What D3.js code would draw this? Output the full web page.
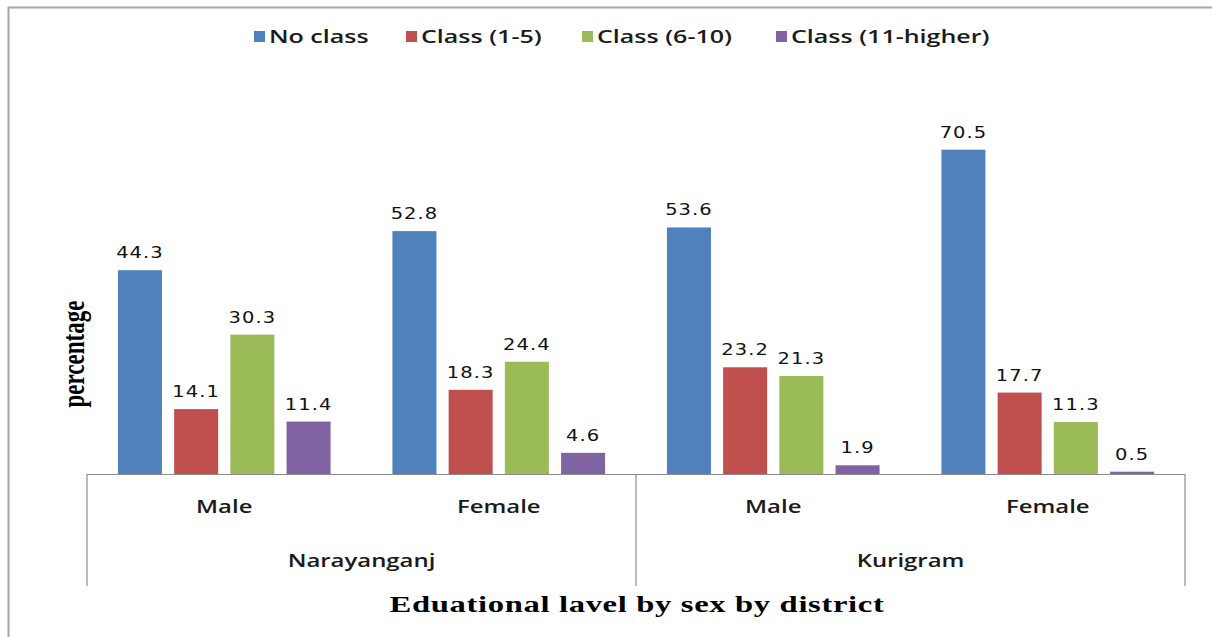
<!DOCTYPE html>
<html>
<head>
<meta charset="utf-8">
<script src="https://cdn.jsdelivr.net/npm/d3@7"></script>
<style>
  html, body { margin: 0; padding: 0; background: #fff; }
  svg { display: block; }
</style>
</head>
<body>
<script>
const categories = ["Male", "Female", "Male", "Female"];
const districts = ["Narayanganj", "Kurigram"];
const seriesNames = ["No class", "Class (1-5)", "Class (6-10)", "Class (11-higher)"];
const noClass = [44.3, 52.8, 53.6, 70.5];
const class1to5 = [14.1, 18.3, 23.2, 17.7];
const class6to10 = [30.3, 24.4, 21.3, 11.3];
const class11higher = [11.4, 4.6, 1.9, 0.5];
const seriesColors = ["#4F81BD", "#C0504D", "#9BBB59", "#8064A2"];
const yTitle = "percentage";
const xTitle = "Eduational lavel by sex by district";

const seriesValues = [noClass, class1to5, class6to10, class11higher];

const W = 1212, H = 637;
const svg = d3.select("body").append("svg").attr("width", W).attr("height", H);

const SX = 1.37; // horizontal stretch of the text in the reference

function stretchedText(g, x, y, txt, sx) {
  return g.append("text")
    .attr("transform", `translate(${x},${y}) scale(${sx || SX},1)`)
    .attr("text-anchor", "middle")
    .text(txt);
}

// frame (top + left edges visible)
svg.append("line").attr("x1", 8).attr("x2", W).attr("y1", 7.5).attr("y2", 7.5)
  .attr("stroke", "#a6a6a6").attr("stroke-width", 2);
svg.append("line").attr("x1", 8.5).attr("x2", 8.5).attr("y1", 7).attr("y2", H)
  .attr("stroke", "#a6a6a6").attr("stroke-width", 2);

const left = 87, right = 1185, base = 474;
const x0 = d3.scaleBand().domain(d3.range(categories.length)).range([left, right]);
const x1 = d3.scaleBand().domain(d3.range(seriesNames.length))
  .range([0, x0.bandwidth()]).paddingInner(0.217).paddingOuter(0.55);
const y = d3.scaleLinear().domain([0, 80]).range([base, base - 80 * 4.6]);

// bars
const groups = svg.append("g").selectAll("g")
  .data(categories.map((c, i) => i))
  .join("g")
  .attr("transform", i => `translate(${x0(i)},0)`);

groups.selectAll("rect")
  .data(i => seriesValues.map((vals, s) => ({ s, v: vals[i] })))
  .join("rect")
  .attr("x", d => x1(d.s))
  .attr("width", x1.bandwidth())
  .attr("y", d => y(d.v))
  .attr("height", d => base - y(d.v))
  .attr("fill", d => seriesColors[d.s]);

// value labels
groups.each(function (i) {
  const g = d3.select(this);
  seriesValues.forEach((vals, s) => {
    stretchedText(g, x1(s) + x1.bandwidth() / 2, y(vals[i]) - 12, vals[i].toFixed(1), 1.3)
      .attr("font-family", "DejaVu Sans")
      .attr("font-size", 15)
      .attr("letter-spacing", 0.8)
      .attr("fill", "#111");
  });
});

// axis line and dividers
const axisG = svg.append("g").attr("stroke", "#8c8c8c").attr("stroke-width", 1.2);
axisG.append("line").attr("x1", left).attr("x2", right).attr("y1", base + 0.5).attr("y2", base + 0.5);
const divX = [x0(0), x0(2), x0(3) + x0.bandwidth()];
divX.forEach(dx => {
  axisG.append("line").attr("x1", dx).attr("x2", dx).attr("y1", base).attr("y2", 586);
});

// category labels
const labG = svg.append("g").attr("font-family", "Open Sans").attr("font-size", 18)
  .attr("font-weight", 600).attr("fill", "#1a1a1a");
categories.forEach((c, i) => {
  stretchedText(labG, x0(i) + x0.bandwidth() / 2, 513, c, 1.33);
});
districts.forEach((d, k) => {
  const cx = x0(k * 2) + x0.bandwidth();
  stretchedText(labG, cx, 567, d, 1.33);
});

// x title
stretchedText(svg, (left + right) / 2 + 1, 612, xTitle, 1.42)
  .attr("font-family", "Liberation Serif")
  .attr("font-weight", "bold")
  .attr("font-size", 23)
  .attr("letter-spacing", 0.45)
  .attr("fill", "#000");

// y title
svg.append("text")
  .attr("transform", `translate(73,354) scale(${SX},1) rotate(-90)`)
  .attr("text-anchor", "middle")
  .attr("dominant-baseline", "central")
  .attr("font-family", "Liberation Serif")
  .attr("font-weight", "bold")
  .attr("font-size", 23)
  .attr("fill", "#000")
  .text(yTitle);

// legend
const legendX = [254, 406, 582, 776];
const leg = svg.append("g").attr("font-family", "Open Sans").attr("font-size", 18)
  .attr("font-weight", 600).attr("fill", "#1a1a1a");
seriesNames.forEach((name, s) => {
  leg.append("rect").attr("x", legendX[s]).attr("y", 31).attr("width", 11).attr("height", 11)
    .attr("fill", seriesColors[s]);
  leg.append("text")
    .attr("transform", `translate(${legendX[s] + 15},43) scale(1.39,1)`)
    .text(name);
});
</script>
</body>
</html>
